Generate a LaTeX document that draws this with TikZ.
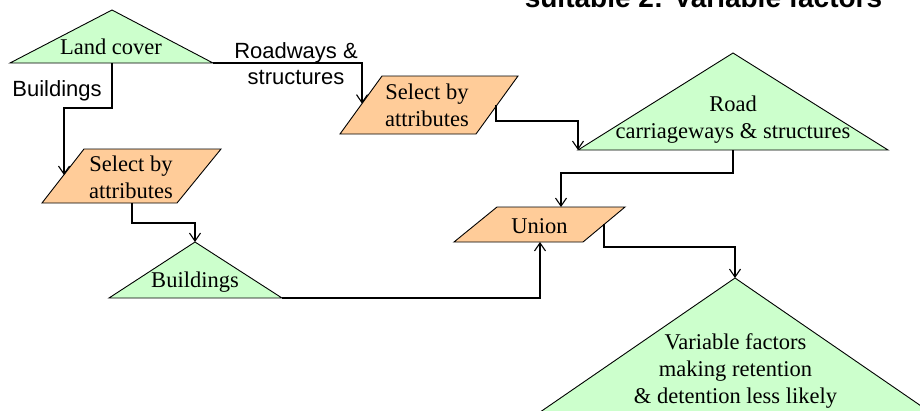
\documentclass[tikz,border=0pt]{standalone}
\usepackage{fontspec}
\setmainfont{Liberation Serif}
\setsansfont{Liberation Sans}
\usetikzlibrary{arrows.meta}

\definecolor{layergreen}{HTML}{CCFFCC}
\definecolor{toolorange}{HTML}{FFCC99}

\tikzset{
  layer/.style={draw=black, fill=layergreen, line width=0.9pt, line join=miter},
  tool/.style={draw=black, fill=toolorange, line width=0.9pt, line join=miter},
  lbl/.style={align=center, inner sep=0pt, font=\fontsize{22.5}{27}\selectfont},
  edgelbl/.style={align=center, inner sep=0pt, font=\sffamily\fontsize{22}{26}\selectfont},
  heading/.style={inner sep=0pt, font=\sffamily\bfseries\fontsize{28}{34}\selectfont},
  flow/.style={draw=black, line width=1.3pt,
    -{Straight Barb[length=8pt,width=11pt,line width=1.1pt]}},
}

\begin{document}
\begin{tikzpicture}[x=1pt,y=-1pt]
\useasboundingbox (0,0) rectangle (920,410);
\clip (0,0) rectangle (920,410);

% ---- heading (runs off the top edge)
\node[heading, anchor=base] (title) at (703.5,7.5) {suitable 2: Variable factors};

% ---- Land cover layer
\coordinate (lc-top)   at (112,10);
\coordinate (lc-left)  at (10,63);
\coordinate (lc-right) at (213,63);
\coordinate (lc-mid)   at (112,63);
\filldraw[layer] (lc-top) -- (lc-right) -- (lc-left) -- cycle;
\node[lbl] (lc) at (111,47.3) {Land cover};

% ---- Select by attributes (buildings branch)
\coordinate (s1-tl) at (84,149);
\coordinate (s1-tr) at (221,149);
\coordinate (s1-br) at (177,203);
\coordinate (s1-bl) at (42,203);
\coordinate (s1-in)  at (64,175);
\coordinate (s1-out) at (132,203);
\filldraw[tool] (s1-tl) -- (s1-tr) -- (s1-br) -- (s1-bl) -- cycle;
\node[lbl] (s1) at (131,176.8) {Select by\\attributes};

% ---- Select by attributes (roadways branch)
\coordinate (s2-tl) at (382,76);
\coordinate (s2-tr) at (518,76);
\coordinate (s2-br) at (476,134);
\coordinate (s2-bl) at (340,134);
\coordinate (s2-in)  at (362,103.6);
\coordinate (s2-out) at (496,105);
\filldraw[tool] (s2-tl) -- (s2-tr) -- (s2-br) -- (s2-bl) -- cycle;
\node[lbl] (s2) at (427,105.6) {Select by\\attributes};

% ---- Buildings layer
\coordinate (bd-top)   at (195,242);
\coordinate (bd-left)  at (109,298);
\coordinate (bd-right) at (282,298);
\filldraw[layer] (bd-top) -- (bd-right) -- (bd-left) -- cycle;
\node[lbl] (bd) at (195,282) {Buildings};

% ---- Road carriageways & structures layer
\coordinate (rd-top)   at (733,53);
\coordinate (rd-left)  at (578,150);
\coordinate (rd-right) at (888,150);
\coordinate (rd-mid)   at (733,150);
\filldraw[layer] (rd-top) -- (rd-right) -- (rd-left) -- cycle;
\node[lbl] (rd) at (733,119.4) {Road\\carriageways \& structures};

% ---- Union
\coordinate (un-tl) at (497,207);
\coordinate (un-tr) at (625,207);
\coordinate (un-br) at (583,242);
\coordinate (un-bl) at (454,242);
\coordinate (un-top)    at (561,207);
\coordinate (un-bottom) at (540,242);
\coordinate (un-out)    at (604,224);
\filldraw[tool] (un-tl) -- (un-tr) -- (un-br) -- (un-bl) -- cycle;
\node[lbl] (un) at (539.5,225.8) {Union};

% ---- Variable factors layer (base below the edge)
\coordinate (vf-top)   at (735,278);
\coordinate (vf-left)  at (514,430);
\coordinate (vf-right) at (956,430);
\filldraw[layer] (vf-top) -- (vf-right) -- (vf-left) -- cycle;
\node[lbl] (vf) at (735.5,371.4) {Variable factors\\making retention\\\& detention less likely};

% ---- connectors
\draw[flow] (lc-right) -| (s2-in);
\draw[flow] (lc-mid) -- ++(0,45) -| (s1-in);
\draw[flow] (s1-out) -- ++(0,20) -| (bd-top);
\draw[flow] (s2-out) -- ++(0,16) -| (rd-left);
\draw[flow] (bd-right) -| (un-bottom);
\draw[flow] (rd-mid) -- ++(0,23) -| (un-top);
\draw[flow] (un-out) -- ++(0,23) -| (vf-top);

% ---- connector labels
\node[edgelbl] (lbl-road) at (296,63.3) {Roadways \&\\structures};
\node[edgelbl, anchor=base] (lbl-bldg) at (57,96.7) {Buildings};

\end{tikzpicture}
\end{document}
